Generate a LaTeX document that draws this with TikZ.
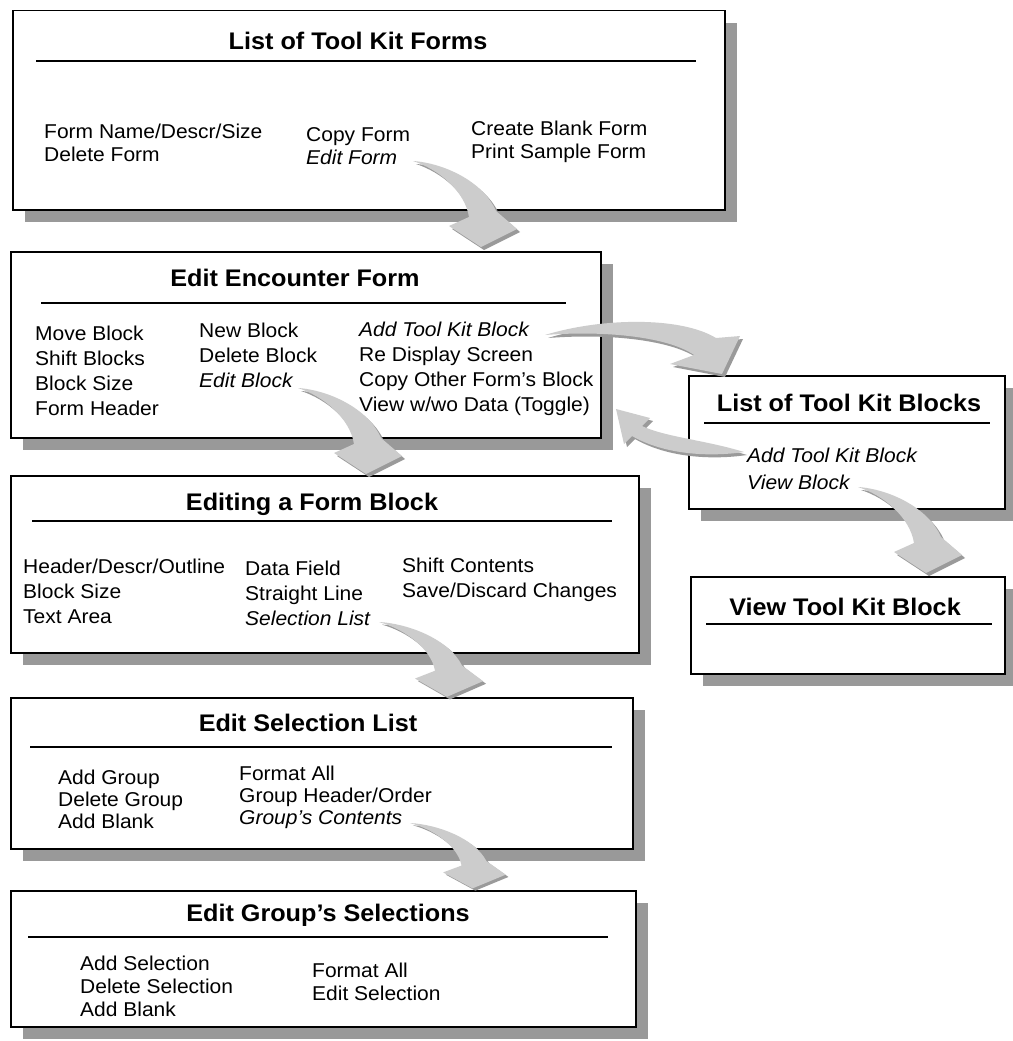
\documentclass[tikz,border=0pt]{standalone}
\usepackage{fontspec}
\setmainfont{Liberation Sans}[FakeStretch=1.05]
\usetikzlibrary{positioning,shadows}
\definecolor{boxshade}{HTML}{999999}
\definecolor{swooshlight}{HTML}{CCCCCC}
\definecolor{swooshdark}{HTML}{9A9A9A}
\tikzset{
	swooshshape/.style={insert path={(0,0) .. controls (30,2) and (70,20) .. (83,50) -- (104,68) -- (68,86) -- (36,65) -- (56,56) .. controls (52,30) and (25,8) .. (0,0) -- cycle}},
	swoosh/.pic={
		\fill[swooshdark, shift={(3,3)}, swooshshape];
		\fill[swooshlight, swooshshape];
	}
}

\begin{document}
\begin{tikzpicture}[x=1pt, y=-1pt,
	panel/.style={draw, line width=1.5pt, fill=white, anchor=north west, inner sep=0pt,
		drop shadow={shadow xshift=12pt, shadow yshift=-12pt, fill=boxshade, opacity=1}},
	boxtitle/.style={font=\fontsize{24}{28}\selectfont\bfseries, inner sep=0pt, anchor=base},
	rule/.style={line width=1.5pt},
	items/.style={anchor=north west, inner sep=0pt, align=left, font=\fontsize{20}{#1}\selectfont}
]
	\fill[white] (0,0) rectangle (1012,1041);
	\useasboundingbox (0,0) rectangle (1012,1041);

	% boxes
	\node[panel, minimum width=712pt, minimum height=199pt] (forms) at (12,10) {};
	\node[panel, minimum width=590pt, minimum height=186pt] (encounter) at (10,251) {};
	\node[panel, minimum width=316pt, minimum height=133pt] (blocklist) at (688,375) {};
	\node[panel, minimum width=314pt, minimum height=97pt] (viewblock) at (690,576) {};
	\node[panel, minimum width=628pt, minimum height=177pt] (blockedit) at (10,475) {};
	\node[panel, minimum width=622pt, minimum height=151pt] (sellist) at (10,697) {};
	\node[panel, minimum width=625pt, minimum height=136pt] (groupsel) at (10,890) {};

	% titles and rules
	\node[boxtitle] (formstitle) at (358,49.6) {List of Tool Kit Forms};
	\draw[rule] (36,61) -- (696,61);
	\node[boxtitle] (encountertitle) at (295,286.6) {Edit Encounter Form};
	\draw[rule] (41,303) -- (566,303);
	\node[boxtitle] (blocklisttitle) at (849,411.6) {List of Tool Kit Blocks};
	\draw[rule] (704,423) -- (990,423);
	\node[boxtitle] (viewblocktitle) at (845,615.6) {View Tool Kit Block};
	\draw[rule] (706,624) -- (992,624);
	\node[boxtitle] (blockedittitle) at (312,510.6) {Editing a Form Block};
	\draw[rule] (32,521) -- (612,521);
	\node[boxtitle] (sellisttitle) at (308,731.6) {Edit Selection List};
	\draw[rule] (30,747) -- (612,747);
	\node[boxtitle] (groupseltitle) at (328,921.6) {Edit Group’s Selections};
	\draw[rule] (28,937) -- (608,937);

	% menu entries
	\node[items=23] (forms1) at (44,124) {Form Name/Descr/Size\\Delete Form};
	\node[items=23] (forms2) at (306,127) {Copy Form\\\textit{Edit Form}};
	\node[items=23] (forms3) at (471,121) {Create Blank Form\\Print Sample Form};

	\node[items=25] (encounter1) at (35,326) {Move Block\\Shift Blocks\\Block Size\\Form Header};
	\node[items=25] (encounter2) at (199,323) {New Block\\Delete Block\\\textit{Edit Block}};
	\node[items=25] (encounter3) at (359,322) {\textit{Add Tool Kit Block}\\Re Display Screen\\Copy Other Form’s Block\\View w/wo Data (Toggle)};

	\node[items=27] (blocklist1) at (747,448) {\textit{Add Tool Kit Block}\\\textit{View Block}};

	\node[items=25] (blockedit1) at (23,559) {Header/Descr/Outline\\Block Size\\Text Area};
	\node[items=25] (blockedit2) at (245,561) {Data Field\\Straight Line\\\textit{Selection List}};
	\node[items=25] (blockedit3) at (402,558) {Shift Contents\\Save/Discard Changes};

	\node[items=22] (sellist1) at (58,770) {Add Group\\Delete Group\\Add Blank};
	\node[items=22] (sellist2) at (239,766) {Format All\\Group Header/Order\\\textit{Group’s Contents}};

	\node[items=23] (groupsel1) at (80,956) {Add Selection\\Delete Selection\\Add Blank};
	\node[items=23] (groupsel2) at (312,963) {Format All\\Edit Selection};

	% swoosh arrows
	\pic at (413,161) {swoosh};
	\pic at (298,388) {swoosh};
	\pic at (858,487) {swoosh};
	\pic[yscale=0.87] at (379,622) {swoosh};
	\pic[xscale=0.92, yscale=0.76] at (410,823) {swoosh};

	\fill[swooshdark, shift={(3,3)}] (545,335) .. controls (600,318) and (680,316) .. (716,338) -- (740,336) -- (722,374) -- (670,364) -- (694,355) .. controls (670,338) and (610,330) .. (545,335) -- cycle;
	\fill[swooshlight] (545,335) .. controls (600,318) and (680,316) .. (716,338) -- (740,336) -- (722,374) -- (670,364) -- (694,355) .. controls (670,338) and (610,330) .. (545,335) -- cycle;

	\fill[swooshdark, shift={(3,3)}] (744,452) .. controls (705,440) and (665,437) .. (642,426) -- (650,418) -- (616,409) -- (624,444) -- (632,436) .. controls (665,455) and (710,457) .. (744,452) -- cycle;
	\fill[swooshlight] (744,452) .. controls (705,440) and (665,437) .. (642,426) -- (650,418) -- (616,409) -- (624,444) -- (632,436) .. controls (665,455) and (710,457) .. (744,452) -- cycle;
\end{tikzpicture}
\end{document}
